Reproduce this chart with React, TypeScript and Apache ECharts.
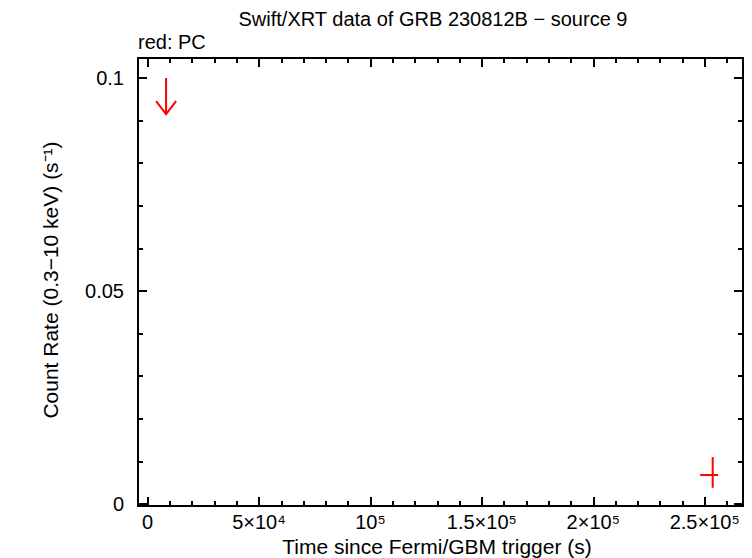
import React, { useEffect, useRef } from "react";
import * as echarts from "echarts";

// ---- data ----
const pcTime = [253600];
const pcTimeLow = [248000];
const pcTimeHigh = [256000];
const pcRate = [0.0068];
const pcRateLow = [0.0038];
const pcRateHigh = [0.011];

const ulTime = [8300];
const ulRate = [0.1];

const xMajorTicks = [0, 50000, 100000, 150000, 200000, 250000];
const xTickLabels = ["0", "5×10⁴", "10⁵", "1.5×10⁵", "2×10⁵", "2.5×10⁵"];
const xMinorTicks = [10000, 20000, 30000, 40000, 60000, 70000, 80000, 90000, 110000, 120000, 130000, 140000, 160000, 170000, 180000, 190000, 210000, 220000, 230000, 240000, 260000];
const yMajorTicks = [0, 0.05, 0.1];
const yTickLabels = ["0", "0.05", "0.1"];
const yMinorTicks = [0.01, 0.02, 0.03, 0.04, 0.06, 0.07, 0.08, 0.09];

const X_MIN = -4300;
const X_MAX = 267200;
const Y_MIN = -0.00047;
const Y_MAX = 0.1047;

const FONT = "'Liberation Sans', Arial, Helvetica, sans-serif";
const BLACK = "#000000";
const RED = "#ff0000";

function labelFor(values: number[], labels: string[]) {
  return (v: number) => {
    for (let i = 0; i < values.length; i++) {
      if (Math.abs(values[i] - v) < 1e-9 * Math.max(1, Math.abs(values[i]))) return labels[i];
    }
    return "";
  };
}

function makeX(position: "top" | "bottom", ticks: number[], len: number, showLine: boolean, showLabel: boolean): any {
  return {
    type: "value",
    position,
    min: X_MIN,
    max: X_MAX,
    axisLine: { show: showLine, onZero: false, lineStyle: { color: BLACK, width: 2 } },
    axisTick: { show: true, inside: true, length: len, customValues: ticks, lineStyle: { color: BLACK, width: 2 } },
    axisLabel: showLabel
      ? {
          show: true,
          customValues: xMajorTicks,
          formatter: labelFor(xMajorTicks, xTickLabels),
          color: BLACK,
          fontFamily: FONT,
          fontSize: 20,
          margin: 6,
        }
      : { show: false },
    splitLine: { show: false },
  };
}

function makeY(position: "left" | "right", ticks: number[], len: number, showLine: boolean, showLabel: boolean): any {
  return {
    type: "value",
    position,
    min: Y_MIN,
    max: Y_MAX,
    axisLine: { show: showLine, onZero: false, lineStyle: { color: BLACK, width: 2 } },
    axisTick: { show: true, inside: true, length: len, customValues: ticks, lineStyle: { color: BLACK, width: 2 } },
    axisLabel: showLabel
      ? {
          show: true,
          customValues: yMajorTicks,
          formatter: labelFor(yMajorTicks, yTickLabels),
          color: BLACK,
          fontFamily: FONT,
          fontSize: 20,
          margin: 14,
        }
      : { show: false },
    splitLine: { show: false },
  };
}

export default function App() {
  const ref = useRef<HTMLDivElement>(null);

  useEffect(() => {
    if (!ref.current) return;
    const chart = echarts.init(ref.current, undefined, { renderer: "svg" });

    const pcData = pcTime.map((t, i) => [t, pcRate[i], pcTimeLow[i], pcTimeHigh[i], pcRateLow[i], pcRateHigh[i]]);
    const ulData = ulTime.map((t, i) => [t, ulRate[i]]);

    const option: any = {
      animation: false,
      backgroundColor: "#ffffff",
      grid: { left: 138, right: 9, top: 58, bottom: 52, containLabel: false },
      xAxis: [
        makeX("bottom", xMajorTicks, 9, true, true),
        makeX("bottom", xMinorTicks, 5, false, false),
        makeX("top", xMajorTicks, 9, true, false),
        makeX("top", xMinorTicks, 5, false, false),
      ],
      yAxis: [
        makeY("left", yMajorTicks, 9, true, true),
        makeY("left", yMinorTicks, 5, false, false),
        makeY("right", yMajorTicks, 9, true, false),
        makeY("right", yMinorTicks, 5, false, false),
      ],
      series: [
        {
          type: "custom",
          name: "PC",
          xAxisIndex: 0,
          yAxisIndex: 0,
          data: pcData,
          renderItem: (params: any, api: any) => {
            const x = api.value(0);
            const y = api.value(1);
            const c = api.coord([x, y]);
            const l = api.coord([api.value(2), y]);
            const h = api.coord([api.value(3), y]);
            const lo = api.coord([x, api.value(4)]);
            const hi = api.coord([x, api.value(5)]);
            const style = { stroke: RED, lineWidth: 2, fill: "none" };
            return {
              type: "group",
              children: [
                { type: "line", shape: { x1: l[0], y1: c[1], x2: h[0], y2: c[1] }, style },
                { type: "line", shape: { x1: c[0], y1: hi[1], x2: c[0], y2: lo[1] }, style },
              ],
            };
          },
        },
        {
          type: "custom",
          name: "PC upper limit",
          xAxisIndex: 0,
          yAxisIndex: 0,
          data: ulData,
          renderItem: (params: any, api: any) => {
            const c = api.coord([api.value(0), api.value(1)]);
            const style = { stroke: RED, lineWidth: 2, fill: "none" };
            const len = 36;
            return {
              type: "group",
              children: [
                { type: "line", shape: { x1: c[0], y1: c[1], x2: c[0], y2: c[1] + len }, style },
                {
                  type: "polyline",
                  shape: { points: [[c[0] - 10, c[1] + len - 13], [c[0], c[1] + len], [c[0] + 10, c[1] + len - 13]] },
                  style,
                },
              ],
            };
          },
        },
      ],
      graphic: [
        {
          type: "text",
          x: 433,
          y: 19,
          style: { text: "Swift/XRT data of GRB 230812B − source 9", fill: BLACK, font: `20px ${FONT}`, align: "center", verticalAlign: "middle" },
        },
        {
          type: "text",
          x: 138,
          y: 42,
          style: { text: "red: PC", fill: BLACK, font: `20px ${FONT}`, align: "left", verticalAlign: "middle" },
        },
        {
          type: "text",
          x: 437,
          y: 546,
          style: { text: "Time since Fermi/GBM trigger (s)", fill: BLACK, font: `21px ${FONT}`, align: "center", verticalAlign: "middle" },
        },
        {
          type: "text",
          x: 50,
          y: 280,
          rotation: Math.PI / 2,
          style: { text: "Count Rate (0.3−10 keV) (s⁻¹)", fill: BLACK, font: `21px ${FONT}`, align: "center", verticalAlign: "middle" },
        },
      ],
    };

    chart.setOption(option);
    return () => chart.dispose();
  }, []);

  return (
    <div
      ref={ref}
      style={{ position: "fixed", left: 0, top: 0, width: 752, height: 558, background: "#ffffff" }}
    />
  );
}
